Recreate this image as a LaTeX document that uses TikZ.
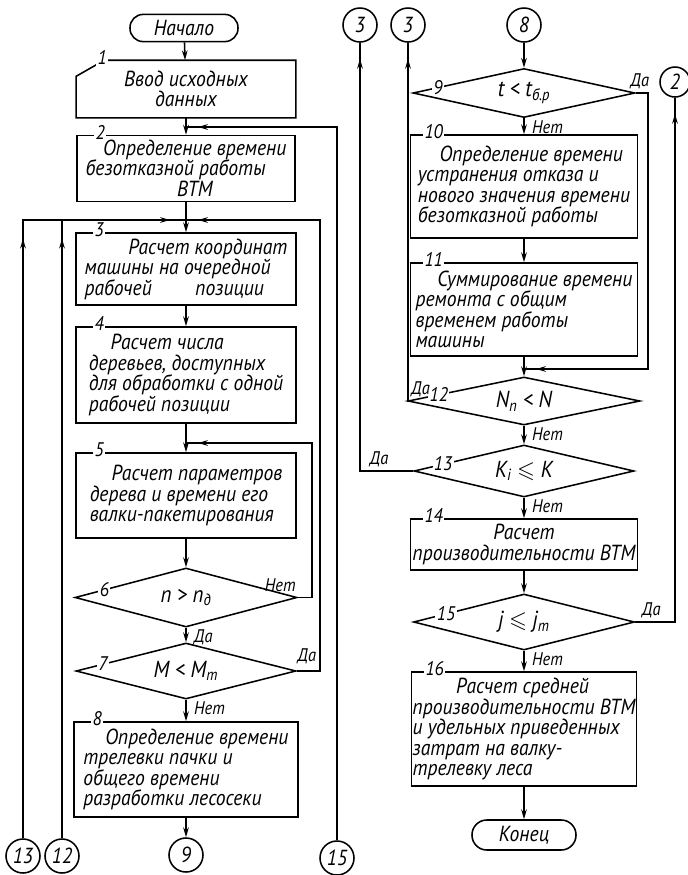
\documentclass[tikz,border=0pt]{standalone}
\usepackage{amsmath,amssymb}
\usepackage{fontspec}
\setmainfont{PT Sans}[FakeStretch=0.9]
\usetikzlibrary{shapes.geometric,arrows.meta,calc,decorations.markings}

\begin{document}
\begin{tikzpicture}[x=.25mm,y=-.25mm,line width=1.1pt,
  txt/.style={font=\itshape\fontsize{15.5}{14.6}\selectfont},
  blok/.style={draw,txt,align=left,inner sep=0pt},
  romb/.style={draw,diamond,aspect=4,inner sep=0pt,font=\itshape\fontsize{16.5}{17}\selectfont},
  term/.style={draw,rectangle,rounded corners=3.3mm,minimum height=6.8mm,minimum width=27mm,txt},
  soed/.style={draw,circle,minimum size=8.5mm,inner sep=0pt,txt},
  nomer/.style={fill=white,inner sep=1pt,font=\itshape\fontsize{14}{15}\selectfont},
  otv/.style={inner sep=1pt,font=\itshape\fontsize{13}{14}\selectfont},
  pot/.style={-{Stealth[length=7pt,width=4pt]}},
  strelka/.style={postaction={decorate,decoration={markings,mark=at position #1 with {\arrow{Stealth[length=7pt,width=4pt]}}}}}]
\path[use as bounding box] (0,0) rectangle (688,875);

\node[term] (nach) at (184,28) {Начало};
\node[txt,align=center,minimum width=54.5mm,minimum height=14mm] (b1) at (186,89) {Ввод исходных\\данных};
\draw (b1.south west) -- ([yshift=-4mm]b1.north west) -- ([xshift=7mm]b1.north west) -- (b1.north east) -- (b1.south east) -- cycle;
\node[nomer] (n1) at ([xshift=6.5mm,yshift=.6mm]b1.north west) {1};
\node[blok,inner xsep=.8mm,minimum width=54.5mm,minimum height=16.5mm,text depth=.3mm] (b2) at (186,168.5) {\hspace{.8em}Определение времени\\безотказной работы\\\hspace{4.2em}ВТМ};
\node[blok,minimum width=55mm,minimum height=18mm] (b3) at (186,269) {\hspace{2em}Расчет координат\\машины на очередной\\рабочей\hspace{2em}позиции};
\node[blok,minimum width=55mm,minimum height=24mm] (b4) at (186,375) {\hspace{1em}Расчет числа\\деревьев, доступных\\для обработки с одной\\рабочей позиции};
\node[blok,minimum width=55mm,minimum height=21.25mm] (b5) at (186,495.5) {\hspace{1em}Расчет параметров\\дерева и времени его\\валки-пакетирования};
\node[romb,minimum width=55.5mm,minimum height=14.75mm] (d6) at (186,597.5) {n > n\textsubscript{д}};
\node[romb,minimum width=55mm,minimum height=14mm] (d7) at (186,671) {M < M\textsubscript{m}};
\node[blok,minimum width=56mm,minimum height=23.75mm] (b8) at (186,769.5) {\hspace{1em}Определение времени\\трелевки пачки и\\общего времени\\разработки лесосеки};
\node[soed] (c9) at (186,855) {9};
\node[soed] (c13) at (23,856) {13};
\node[soed] (c12) at (62,856) {12};
\node[soed] (c15) at (337,858) {15};

\foreach \b/\n in {b2/2,b3/3,b4/4,b5/5,b8/8}
  \node[nomer] (n\n) at ([xshift=6mm,yshift=.6mm]\b.north west) {\n};
\node[nomer] (n6) at ($(d6.west)!.27!(d6.north)$) {6};
\node[nomer] (n7) at ($(d7.west)!.25!(d7.north)$) {7};

\coordinate (j2) at (186,127);
\coordinate (j3) at (186,220);
\coordinate (j5) at (186,443);
\coordinate (u6) at (312,0);
\coordinate (u7) at (320,0);

\draw[pot] (nach) -- (b1);
\draw[pot] (b1) -- (b2);
\draw[pot] (b2) -- (b3);
\draw[pot] (b3) -- (b4);
\draw[pot] (b4) -- (b5);
\draw[pot] (b5) -- (d6);
\draw[pot] (d6) -- (d7);
\draw[pot] (d7) -- (b8);
\draw[pot] (b8) -- (c9);
\draw[strelka=-3mm] (c15.north) |- (j2);
\draw[strelka=-4mm] (c13.north) |- (j3);
\draw[strelka=.97] (c13.north) -- (c13.north |- j3);
\draw[strelka=.97] (c12.north) -- (c12.north |- j3);
\draw[strelka=-3mm] (d7.east) -| (u7 |- j3) -- (j3);
\draw[strelka=-3mm] (d6.east) -| (u6 |- j5) -- (j5);

\node[otv,anchor=south east] (net6) at ([yshift=.8mm]d6.east) {Нет};
\node[otv,anchor=north west] (da6) at ([xshift=1.5mm]d6.south) {Да};
\node[otv,anchor=south] (da7) at ([xshift=2.5mm,yshift=1.2mm]d7.east) {Да};
\node[otv,anchor=north west] (net7) at ([xshift=1.5mm]d7.south) {Нет};

\node[soed] (c3a) at (360,25) {3};
\node[soed] (c3b) at (408,25) {3};
\node[soed] (c8) at (524,25) {8};
\node[soed,minimum size=7.5mm] (c2) at (675,82) {2};
\node[romb,minimum width=55.5mm,minimum height=12.25mm] (d9) at (524,93) {t < t\textsubscript{б.р}};
\node[blok,minimum width=56.75mm,minimum height=25.75mm] (b10) at (524,186.5) {\hspace{1em}Определение времени\\устранения отказа и\\нового значения времени\\безотказной работы};
\node[blok,minimum width=56.75mm,minimum height=23.25mm] (b11) at (524,309.5) {\hspace{1em}Суммирование времени\\ремонта с общим\\временем работы\\машины};
\node[romb,minimum width=58mm,minimum height=12mm] (d12) at (524,401) {N\textsubscript{п} < N};
\node[romb,minimum width=55mm,minimum height=13mm] (d13) at (524,471) {K\textsubscript{i} $\leqslant$ K};
\node[blok,align=center,minimum width=56.75mm,minimum height=12.75mm] (b14) at (524,544.5) {Расчет\\производительности ВТМ};
\node[romb,minimum width=55.25mm,minimum height=14mm] (d15) at (524,622) {j $\leqslant$ j\textsubscript{m}};
\node[blok,minimum width=56.25mm,minimum height=28.5mm] (b16) at (524,729) {\hspace{2em}Расчет средней\\производительности ВТМ\\и удельных приведенных\\затрат на валку-\\трелевку леса};
\node[term,minimum width=26mm,minimum height=7.5mm,rounded corners=3.7mm] (kon) at (524,835) {Конец};

\foreach \b/\n in {b10/10,b11/11,b14/14,b16/16}
  \node[nomer] (n\n) at ([xshift=6mm,yshift=.6mm]\b.north west) {\n};
\node[nomer] (n9) at ($(d9.west)!.23!(d9.north)$) {9};
\node[nomer] (n12) at ($(d12.west)!.27!(d12.north)$) {12};
\node[nomer] (n13) at ($(d13.west)!.27!(d13.north)$) {13};
\node[nomer] (n15) at ($(d15.west)!.3!(d15.north)$) {15};

\coordinate (j12) at (524,369);
\coordinate (u9) at (648,0);

\draw[pot] (c8) -- (d9);
\draw[pot] (d9) -- (b10);
\draw[pot] (b10) -- (b11);
\draw[pot] (b11) -- (d12);
\draw[pot] (d12) -- (d13);
\draw[pot] (d13) -- (b14);
\draw[pot] (b14) -- (d15);
\draw[pot] (d15) -- (b16);
\draw[pot] (b16) -- (kon);
\draw[strelka=-3mm] (d9.east) -| (u9 |- j12) -- (j12);
\draw[strelka=-4mm] (d12.west) -| (c3b.south);
\draw[strelka=-4mm] (d13.west) -| (c3a.south);
\draw[strelka=-4mm] (d15.east) -| (c2.south);

\node[otv,anchor=south] (da9) at ([xshift=1mm,yshift=.5mm]d9.east) {Да};
\node[otv,anchor=north west] (net9) at ([xshift=1.5mm]d9.south) {Нет};
\node[otv,anchor=south west] (da12) at ([xshift=.5mm,yshift=.5mm]d12.west) {Да};
\node[otv,anchor=north west] (net12) at ([xshift=1.5mm]d12.south) {Нет};
\node[otv,anchor=south] (da13) at ([xshift=-8.5mm,yshift=.5mm]d13.west) {Да};
\node[otv,anchor=north west] (net13) at ([xshift=1.5mm]d13.south) {Нет};
\node[otv,anchor=south] (da15) at ([xshift=4mm,yshift=.5mm]d15.east) {Да};
\node[otv,anchor=north west] (net15) at ([xshift=1.5mm]d15.south) {Нет};
\end{tikzpicture}
\end{document}
